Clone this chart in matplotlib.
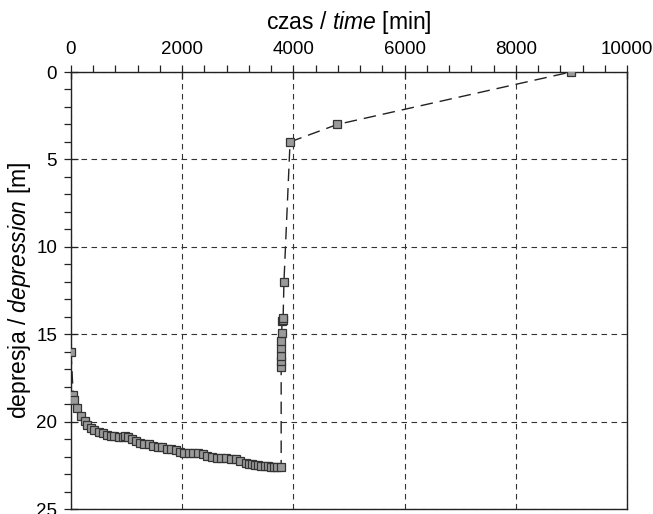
import matplotlib

matplotlib.use("Agg")
import matplotlib.pyplot as plt
from matplotlib.ticker import MultipleLocator

plt.rcParams["font.family"] = ["Liberation Sans", "DejaVu Sans"]
plt.rcParams["mathtext.fontset"] = "custom"
plt.rcParams["mathtext.rm"] = "Liberation Sans"
plt.rcParams["mathtext.it"] = "Liberation Sans:italic"

# pumping phase: time [min] vs depression [m]
time_pump = [0, 40, 54, 113, 185, 246, 293, 360, 419, 498, 570, 642, 714, 779,
             863, 930, 977, 1031, 1097, 1169, 1241, 1318, 1397, 1480, 1559,
             1637, 1721, 1804, 1883, 1960, 2032, 2117, 2200, 2284, 2369, 2451,
             2531, 2621, 2703, 2788, 2872, 2962, 3045, 3144, 3200, 3255, 3310,
             3369, 3425, 3482, 3538, 3594, 3650, 3705, 3780]
depr_pump = [16.0, 18.5, 18.75, 19.25, 19.67, 19.95, 20.17, 20.34, 20.49, 20.62,
             20.68, 20.74, 20.8, 20.85, 20.89, 20.87, 20.82, 20.89, 21.0, 21.12,
             21.2, 21.27, 21.31, 21.39, 21.43, 21.48, 21.54, 21.56, 21.65, 21.73,
             21.79, 21.79, 21.81, 21.81, 21.83, 21.94, 22.0, 22.06, 22.06, 22.1,
             22.13, 22.15, 22.23, 22.36, 22.4, 22.44, 22.47, 22.5, 22.52, 22.55,
             22.56, 22.57, 22.57, 22.57, 22.57]

# recovery phase
time_rec = [3780, 3780, 3780, 3780, 3785, 3790, 3795, 3810, 3815, 3830, 3940,
            4790, 8990]
depr_rec = [16.86, 16.55, 16.25, 15.79, 15.37, 14.95, 14.26, 14.16, 14.1, 12.0,
            4.0, 3.0, 0.0]

time = time_pump + time_rec
depr = depr_pump + depr_rec

fig = plt.figure(figsize=(6.53, 5.14), dpi=100)
ax = fig.add_axes([71 / 653, 1 - 509 / 514, (627 - 71) / 653, (509 - 72) / 514])

ax.plot(time, depr, linestyle=(0, (9, 5)), color="#222222", linewidth=1.0,
        marker="s", markersize=5.5, markerfacecolor="#9a9a9a",
        markeredgecolor="#333333", markeredgewidth=0.9, zorder=3)

ax.set_xlim(0, 10000)
ax.set_ylim(25, 0)
ax.xaxis.tick_top()
ax.xaxis.set_label_position("top")
ax.xaxis.set_major_locator(MultipleLocator(2000))
ax.xaxis.set_minor_locator(MultipleLocator(400))
ax.yaxis.set_major_locator(MultipleLocator(5))
ax.yaxis.set_minor_locator(MultipleLocator(1))
ax.tick_params(which="major", direction="inout", length=10, width=0.9,
               labelsize=13.5, color="#222222", pad=5)
ax.tick_params(which="minor", direction="out", length=5, width=0.9,
               color="#222222")
ax.tick_params(axis="x", which="both", top=True, bottom=False)

ax.grid(True, which="major", linestyle=(0, (5, 4)), color="#333333",
        linewidth=0.8)
for s in ax.spines.values():
    s.set_linewidth(1.0)
    s.set_color("#222222")

ax.set_xlabel("czas / $\\mathit{time}$ [min]", fontsize=16.5, labelpad=9)
ax.set_ylabel("depresja / $\\mathit{depression}$ [m]", fontsize=16.5, labelpad=2)

fig.savefig("out.png", dpi=100)
